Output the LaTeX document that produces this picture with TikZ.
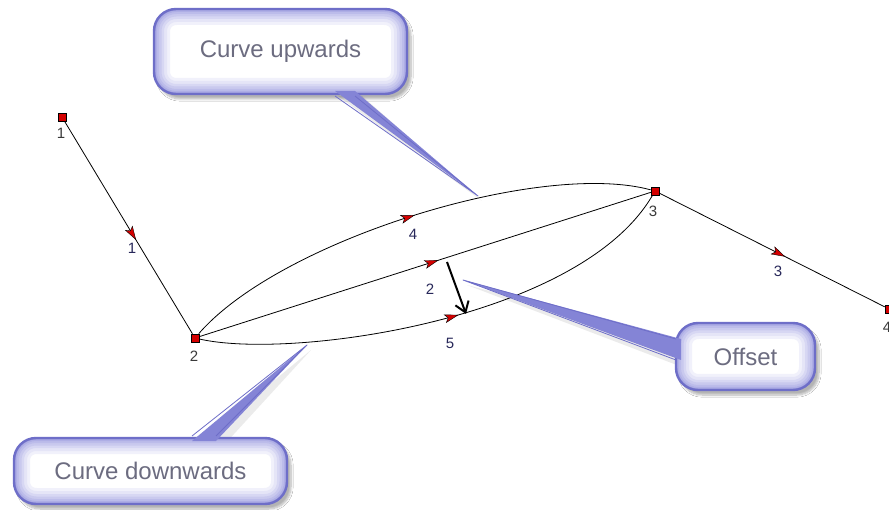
\documentclass[tikz,border=0pt]{standalone}
\usepackage{fontspec}
\setmainfont{Liberation Sans}
\usetikzlibrary{arrows.meta,decorations.markings,shadows.blur}
\definecolor{sqred}{HTML}{D40000}
\definecolor{lblnavy}{HTML}{28285A}
\definecolor{lblgray}{HTML}{3A3A3A}
\definecolor{cborder}{HTML}{6E6EC8}
\definecolor{cglow}{HTML}{9C9CE0}
\definecolor{ctext}{HTML}{6C6C80}
\definecolor{cwedge}{HTML}{8484D6}
\tikzset{
  vert/.style={draw=black, fill=sqred, minimum size=8pt, inner sep=0pt, line width=0.6pt},
  vlabel/.style={text=lblgray, font=\fontsize{15}{16}\selectfont, inner sep=0pt},
  elabel/.style={text=lblnavy, font=\fontsize{15}{16}\selectfont, inner sep=0pt},
  link/.style={draw=black, line width=0.8pt, postaction={decorate},
    decoration={markings, mark=at position #1 with {\fill[sqred, draw=black, line width=0.4pt] (4pt,0pt) -- (-9pt,4pt) -- (-6pt,0pt) -- (-9pt,-4pt) -- cycle;}}},
  link/.default=0.5,
  glowline/.style={rounded corners=22pt},
  glowbox/.style={draw=cborder, line width=2.4pt, rounded corners=22pt, fill=white, text=ctext,
    font=\fontsize{24}{27}\selectfont,
    blur shadow={shadow xshift=4pt, shadow yshift=-5pt, shadow blur steps=8, shadow opacity=30},
    path picture={
      \foreach \w/\p in {32/14,26/26,20/40,15/54,10/68,6/82,3/95}{
        \draw[cglow!\p, line width=\w pt, glowline] (path picture bounding box.south west) rectangle (path picture bounding box.north east);
      }
    }},
  wedge/.style={fill=cwedge, draw=none},
  wedgeedge/.style={draw=cborder, line width=0.8pt, line join=round},
  offsetarrow/.style={draw=black, line width=2pt, -{Straight Barb[length=10pt,width=14pt,line width=2pt]}}
}
\begin{document}
\begin{tikzpicture}[x=1pt,y=-1pt]
\useasboundingbox (0,0) rectangle (889,510);
\fill[white] (0,0) rectangle (889,510);

% soft shadows of the wedges
\fill[black, opacity=0.08] (338,96) -- (362,96) -- (482,201) -- cycle;
\fill[black, opacity=0.08] (682,342) -- (682,367) -- (467,285) -- cycle;
\fill[black, opacity=0.08] (195,446) -- (223,446) -- (311,350) -- cycle;

% vertices
\node[vert] (n1) at (62,117) {};
\node[vert] (n2) at (195,338) {};
\node[vert] (n3) at (655,191) {};
\node[vert] (n4) at (889,309) {};

% edges
\draw[link=0.54] (n1) -- (n2);
\draw[link=0.52] (n2) -- (n3);
\draw[link=0.54] (n3) -- (n4);
\draw[link=0.50] (n2) .. controls (280,240) and (540,160) .. (n3);
\draw[link=0.52] (n2) .. controls (290,360) and (580,320) .. (n3);

% vertex labels
\node[vlabel] (l1) at (61,133) {1};
\node[vlabel] (l2) at (194,356) {2};
\node[vlabel] (l3) at (653,211) {3};
\node[vlabel] (l4) at (887,327) {4};

% edge labels
\node[elabel] (e1) at (132,248) {1};
\node[elabel] (e4) at (413,234) {4};
\node[elabel] (e2) at (430,289) {2};
\node[elabel] (e5) at (450,343) {5};
\node[elabel] (e3) at (778,271) {3};

% offset arrow
\coordinate (o1) at (447,262);
\coordinate (o2) at (466,314);
\draw[offsetarrow] (o1) -- (o2);

% callout boxes
\node[glowbox, minimum width=253pt, minimum height=85pt] (c1) at (280.5,51.5) {Curve upwards};
\node[glowbox, minimum width=139pt, minimum height=67pt] (c2) at (745.5,356.5) {Offset};
\node[glowbox, minimum width=273pt, minimum height=66pt] (c3) at (150.5,471) {Curve downwards};

% callout pointers
\path[wedge] (335,91) -- (355,91) -- (478,196) -- cycle;
\path[wedge] (681,339) -- (681,360) -- (463,280) -- cycle;
\path[wedge] (192,441) -- (216,441) -- (307,345) -- cycle;
\draw[wedgeedge] (355,96) -- (478,196) -- (335,96);
\draw[wedgeedge] (676,360) -- (463,280) -- (676,339);
\draw[wedgeedge] (216,436) -- (307,345) -- (192,436);
\end{tikzpicture}
\end{document}
